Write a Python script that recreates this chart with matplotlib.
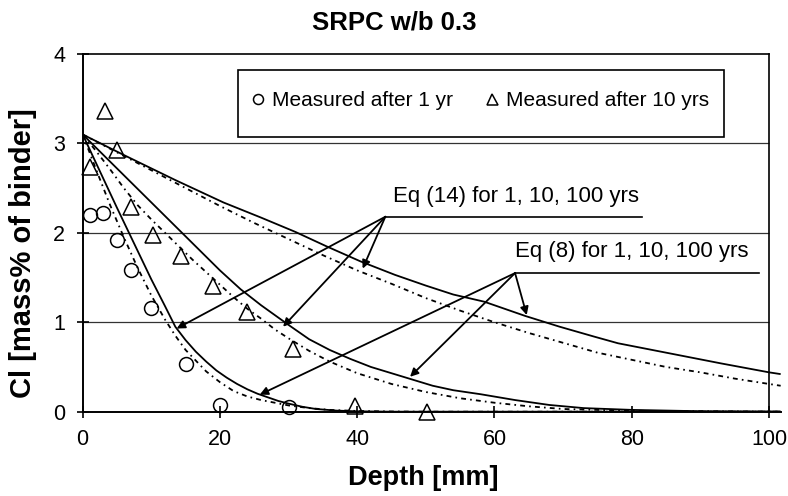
import matplotlib
matplotlib.use("Agg")
import matplotlib.pyplot as plt
from matplotlib.patches import Rectangle

plt.rcParams["font.family"] = ["Liberation Sans", "DejaVu Sans"]
plt.rcParams["lines.scale_dashes"] = False

# Measured chloride profiles
depth_1yr = [1, 3, 5, 7, 10, 15, 20, 30]
cl_1yr = [2.20, 2.22, 1.92, 1.585, 1.157, 0.53, 0.08, 0.05]

depth_10yr = [1, 3.2, 5, 7, 10.2, 14.4, 19, 24, 30.6, 39.7, 50.2]
cl_10yr = [2.74, 3.36, 2.93, 2.29, 1.98, 1.74, 1.41, 1.11, 0.70, 0.06, 0.0]

# Eq (8) predictions (solid)
eq8_1yr_x = [0, 2.5, 5, 7.5, 10, 12, 13.5, 15, 16.5, 18, 19.5, 21, 22.5, 24,
             25.5, 27, 28.5, 30, 32, 34, 37, 40, 45, 101.7]
eq8_1yr_y = [3.10, 2.69, 2.28, 1.88, 1.48, 1.18, 0.95, 0.80, 0.67, 0.56, 0.46,
             0.38, 0.31, 0.25, 0.20, 0.16, 0.12, 0.09, 0.055, 0.03, 0.012,
             0.004, 0.0, 0.0]

eq8_10yr_x = [0, 5, 10, 15, 20, 23, 26, 28, 30, 33, 36, 39, 42, 45, 48, 51,
              54, 58, 63, 68, 73, 80, 90, 101.7]
eq8_10yr_y = [3.10, 2.72, 2.34, 1.96, 1.58, 1.37, 1.19, 1.08, 0.97, 0.81, 0.69,
              0.59, 0.50, 0.43, 0.36, 0.29, 0.24, 0.195, 0.13, 0.075, 0.04,
              0.02, 0.005, 0.0]

eq8_100yr_x = [0, 6, 13.5, 20.5, 26, 31, 35.5, 40.5, 45.5, 50, 54, 58.5,
               64.5, 69.5, 74.5, 78, 83, 88, 93, 100, 101.7]
eq8_100yr_y = [3.10, 2.87, 2.59, 2.34, 2.17, 2.01, 1.85, 1.68, 1.53, 1.41,
               1.31, 1.23, 1.07, 0.95, 0.84, 0.765, 0.69, 0.615, 0.54, 0.44,
               0.42]

# Eq (14) predictions (dashed)
eq14_1yr_x = [0, 2, 4, 6, 8, 10, 12, 13.5, 15, 16.5, 18, 20, 22, 24, 26, 28,
              30, 33, 36, 40, 45, 50, 101.7]
eq14_1yr_y = [3.10, 2.70, 2.31, 1.95, 1.61, 1.30, 1.03, 0.85, 0.69, 0.57, 0.45,
              0.33, 0.23, 0.17, 0.13, 0.10, 0.07, 0.04, 0.02, 0.008, 0.002,
              0.0, 0.0]

eq14_10yr_x = [0, 2, 4, 6, 8, 10, 12, 14, 16, 18, 20, 22, 24, 26, 28, 30, 33,
               36, 40, 45, 50, 55, 60, 65, 70, 80, 101.7]
eq14_10yr_y = [3.10, 2.91, 2.71, 2.50, 2.31, 2.15, 2.00, 1.85, 1.70, 1.56, 1.42,
               1.28, 1.15, 1.04, 0.92, 0.82, 0.68, 0.56, 0.43, 0.31, 0.22,
               0.15, 0.10, 0.06, 0.03, 0.01, 0.0]

eq14_100yr_x = [0, 5, 10, 15, 20, 25, 30, 35, 40, 45, 50, 55, 60, 65, 70, 75,
                80, 85, 90, 95, 100, 101.7]
eq14_100yr_y = [3.10, 2.90, 2.70, 2.50, 2.30, 2.11, 1.93, 1.75, 1.58, 1.43,
                1.27, 1.13, 1.00, 0.88, 0.77, 0.66, 0.58, 0.50, 0.44, 0.37,
                0.31, 0.29]

x_ticks = [0, 20, 40, 60, 80, 100]
y_ticks = [0, 1, 2, 3, 4]

fig = plt.figure(figsize=(7.88, 4.96), dpi=100)
ax = fig.add_axes([0.1049, 0.170, 0.8858, 0.7212])
ax.set_xlim(0, 101.7)
ax.set_ylim(0, 4)

# horizontal grid and top/right frame stop at 100 mm
ax.hlines([1, 2, 3], 0, 100, color="#333333", lw=0.9, zorder=0)
ax.plot([0, 100], [4, 4], color="black", lw=1.2, clip_on=False)
ax.plot([100, 100], [0, 4], color="black", lw=1.2, clip_on=False)

solid_kw = dict(color="black", lw=1.3, solid_capstyle="butt")
dash_kw = dict(color="black", lw=1.3, dashes=(3.5, 3, 1.2, 3))
for xs, ys in [(eq8_1yr_x, eq8_1yr_y), (eq8_10yr_x, eq8_10yr_y),
               (eq8_100yr_x, eq8_100yr_y)]:
    ax.plot(xs, ys, **solid_kw)
for xs, ys in [(eq14_1yr_x, eq14_1yr_y), (eq14_10yr_x, eq14_10yr_y),
               (eq14_100yr_x, eq14_100yr_y)]:
    ax.plot(xs, ys, **dash_kw)

h1, = ax.plot(depth_1yr, cl_1yr, "o", ms=10, mfc="none", mec="black",
              mew=1.1, clip_on=False, zorder=5, label="Measured after 1 yr")
h2, = ax.plot(depth_10yr, cl_10yr, "^", ms=11, mfc="none", mec="black",
              mew=1.1, clip_on=False, zorder=5, label="Measured after 10 yrs")

# legend box
ax.add_patch(Rectangle((0.222, 0.767), 0.697, 0.188, transform=ax.transAxes,
                       facecolor="white", edgecolor="black", lw=1.2, zorder=6))
ax.legend(handles=[h1, h2], loc="center left", bbox_to_anchor=(0.2418, 0.869),
          ncol=2, frameon=False, fontsize=15, borderpad=0, handlelength=0.6,
          handletextpad=0.37, columnspacing=1.6, markerscale=0.72,
          borderaxespad=0).set_zorder(7)

# callouts
arrow_kw = dict(arrowstyle="-|>", color="black", lw=1.3, mutation_scale=12,
                shrinkA=0, shrinkB=0)
ax.text(45.2, 2.41, "Eq (14) for 1, 10, 100 yrs", fontsize=16, va="center",
        ha="left")
ax.plot([44.1, 81.5], [2.18, 2.18], color="black", lw=1.2)
for tip in [(13.7, 0.93), (29.2, 0.95), (40.8, 1.60)]:
    ax.annotate("", xy=tip, xytext=(44.1, 2.18), arrowprops=arrow_kw)

ax.text(63.0, 1.79, "Eq (8) for 1, 10, 100 yrs", fontsize=16, va="center",
        ha="left")
ax.plot([63.0, 98.5], [1.55, 1.55], color="black", lw=1.2)
for tip in [(25.8, 0.19), (47.7, 0.39), (64.7, 1.08)]:
    ax.annotate("", xy=tip, xytext=(63.0, 1.55), arrowprops=arrow_kw)

ax.set_xticks(x_ticks)
ax.set_yticks(y_ticks)
ax.tick_params(direction="inout", length=9, width=1.2, labelsize=15.5, pad=8)
for side in ("top", "right"):
    ax.spines[side].set_visible(False)
for side in ("left", "bottom"):
    ax.spines[side].set_linewidth(1.4)

ax.set_xlabel("Depth [mm]", fontsize=19.5, fontweight="bold", va="center")
ax.xaxis.set_label_coords(0.488, -0.185)
ax.set_ylabel("Cl [mass% of binder]", fontsize=21, fontweight="bold",
              va="center")
ax.yaxis.set_label_coords(-0.0855, 0.444)

fig.text(0.5, 1 - 23 / 496, "SRPC w/b 0.3", ha="center", va="center",
         fontsize=18.5, fontweight="bold")

fig.savefig("out.png", dpi=100)
